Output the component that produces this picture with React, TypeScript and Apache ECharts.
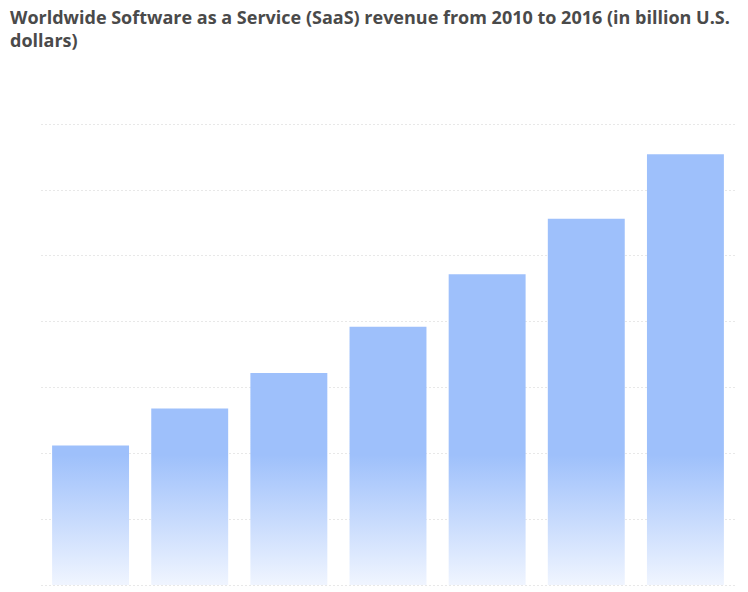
import React, { useEffect, useRef } from "react";
import * as echarts from "echarts";

const years = ["2010", "2011", "2012", "2013", "2014", "2015", "2016"];
const revenue = [10.6, 13.4, 16.1, 19.6, 23.6, 27.8, 32.7];
const titleText =
  "Worldwide Software as a Service (SaaS) revenue from 2010 to 2016 (in billion U.S.\ndollars)";

export default function App() {
  const ref = useRef<HTMLDivElement>(null);
  useEffect(() => {
    document.body.style.margin = "0";
    const chart = echarts.init(ref.current!, null, { renderer: "svg" });
    chart.setOption({
      animation: false,
      backgroundColor: "#ffffff",
      graphic: [
        {
          type: "text",
          left: 10,
          top: 5,
          style: {
            text: titleText,
            font: "bold 18px 'Open Sans'",
            fill: "#4a4a4a",
            lineHeight: 23,
          },
        },
      ],
      grid: { left: 41, right: 13, top: 124, bottom: 7, containLabel: false },
      xAxis: {
        type: "category",
        data: years,
        axisLine: { show: false },
        axisTick: { show: false },
        axisLabel: { show: false },
      },
      yAxis: {
        type: "value",
        min: 0,
        max: 35,
        interval: 5,
        axisLabel: { show: false },
        axisLine: { show: false },
        axisTick: { show: false },
        splitLine: {
          show: true,
          lineStyle: { color: "#e8e8e8", type: [2, 2], width: 1 },
        },
      },
      series: [
        {
          type: "bar",
          data: revenue,
          barCategoryGap: "22.4%",
          itemStyle: {
            color: new echarts.graphic.LinearGradient(
              0,
              455,
              0,
              590,
              [
                { offset: 0, color: "#9ec0fb" },
                { offset: 1, color: "#f3f7ff" },
              ],
              true
            ),
          },
        },
      ],
    });
    return () => chart.dispose();
  }, []);
  return <div ref={ref} style={{ width: 748, height: 592 }} />;
}
